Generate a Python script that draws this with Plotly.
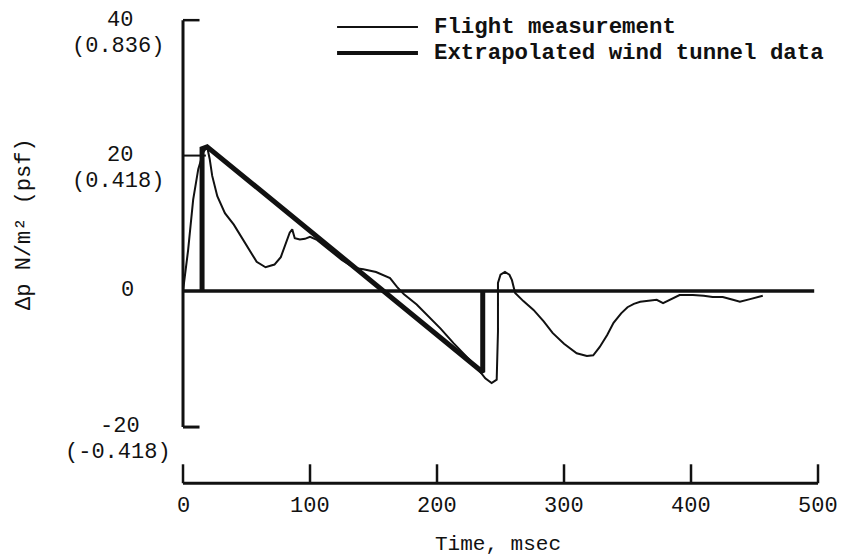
import plotly.graph_objects as go

# ---------------- data ----------------
flight_t = [0, 4, 8, 12, 16, 19, 21, 23, 27, 33, 40, 46, 52, 58, 65, 72, 77, 81, 84, 86,
            88, 92, 96, 100, 105, 115, 125, 135, 142, 152, 163, 168.5, 174, 184, 194, 203,
            213, 222, 231, 238, 243, 247, 248, 248, 250, 253.5, 257, 259, 261.5, 268, 276,
            284, 291, 300, 310, 318, 323, 328, 334, 339, 345, 350, 355, 360, 367, 373, 378,
            383.5, 391, 401.5, 410, 417, 425, 433, 438.5, 446.5, 456.5]
flight_p = [0, 6, 13.5, 18, 20.5, 21.3, 19.5, 17, 14, 11.5, 9.8, 8, 6, 4.3, 3.5, 3.9, 5, 7, 8.6, 9.1,
            7.8, 7.6, 7.7, 8, 7.6, 6.1, 4.6, 3.4, 3.2, 2.8, 1.9, 0.6, -0.5, -2.0, -3.9, -5.6,
            -7.7, -9.4, -11.2, -12.9, -13.6, -13.1, -6, 1.2, 2.4, 2.8, 2.4, 1.6, -0.3, -1.5, -2.8,
            -4.5, -6.2, -7.8, -9.2, -9.6, -9.5, -8.3, -6.5, -4.7, -3.3, -2.4, -1.9, -1.6, -1.4, -1.3, -1.8,
            -1.3, -0.6, -0.6, -0.7, -0.9, -0.9, -1.3, -1.6, -1.2, -0.7]

tunnel_t = [15, 15, 19, 236, 236]
tunnel_p = [0, 21, 21.3, -12.0, 0]

x_tick_vals = [0, 100, 200, 300, 400, 500]
x_tick_text = ["0", "100", "200", "300", "400", "500"]
y_tick_vals = [40, 20, 0, -20]
y_tick_text_si = ["40", "20", "0", "-20"]
y_tick_text_psf = ["(0.836)", "(0.418)", "", "(-0.418)"]

legend_names = ["Flight measurement", "Extrapolated wind tunnel data"]
x_title = "Time, msec"
y_title = "\u0394p N/m\u00b2 (psf)"

# ---------------- layout geometry (data units) ----------------
X_RANGE = [-144.1, 518.1]
Y_RANGE = [-39.59, 42.98]
BOTTOM_AXIS_Y = -28.4
BOTTOM_TICK_TOP = -25.6
Y_AXIS_BOTTOM = -20.1
ZERO_LINE_END = 497
FONT = "Liberation Mono"
INK = "#111111"

fig = go.Figure()

fig.add_trace(go.Scatter(x=flight_t, y=flight_p, mode="lines",
                         line=dict(color=INK, width=2), name=legend_names[0],
                         showlegend=False))
fig.add_trace(go.Scatter(x=tunnel_t, y=tunnel_p, mode="lines",
                         line=dict(color=INK, width=5), name=legend_names[1],
                         showlegend=False))

shapes = []
def seg(x0, y0, x1, y1, w):
    shapes.append(dict(type="line", xref="x", yref="y", x0=x0, y0=y0, x1=x1, y1=y1,
                       line=dict(color=INK, width=w), layer="below"))

# zero line
seg(0, 0, ZERO_LINE_END, 0, 3.5)
# left axis
seg(0, y_tick_vals[0], 0, Y_AXIS_BOTTOM, 3)
seg(0, y_tick_vals[0], 13, y_tick_vals[0], 2.5)
seg(0, y_tick_vals[1], 18, y_tick_vals[1], 2)
seg(0, Y_AXIS_BOTTOM, 13, Y_AXIS_BOTTOM, 3)
# bottom axis
seg(x_tick_vals[0], BOTTOM_AXIS_Y, x_tick_vals[-1], BOTTOM_AXIS_Y, 3)
for xv in x_tick_vals:
    seg(xv, BOTTOM_AXIS_Y, xv, BOTTOM_TICK_TOP, 2.5)

annotations = []
def txt(x, y, s, size=22, bold=False, xanchor="center", yanchor="middle", angle=0, yshift=0):
    annotations.append(dict(x=x, y=y, xref="x", yref="y", text=f"<b>{s}</b>" if bold else s,
                            showarrow=False, xanchor=xanchor, yanchor=yanchor,
                            textangle=angle, yshift=yshift,
                            font=dict(family=FONT, size=size, color=INK)))

for v, t1, t2 in zip(y_tick_vals, y_tick_text_si, y_tick_text_psf):
    xl = -50 if t2 else -44
    txt(xl, v, t1)
    if t2:
        txt(-51, v, t2, yshift=-26)

for v, t in zip(x_tick_vals, x_tick_text):
    txt(v, -31.8, t)

txt(248, -37.5, x_title, size=21)
txt(-124.4, 9.9, y_title, angle=-90)

# legend (samples + text)
leg_y = [(291 - 27) / 6.77, (291 - 53) / 6.77]
shapes.append(dict(type="line", xref="x", yref="y", x0=121.3, x1=185, y0=leg_y[0], y1=leg_y[0],
                   line=dict(color=INK, width=2)))
shapes.append(dict(type="line", xref="x", yref="y", x0=121.3, x1=185, y0=leg_y[1], y1=leg_y[1],
                   line=dict(color=INK, width=4)))
txt(196, leg_y[0], legend_names[0], size=22.4, bold=True, xanchor="left")
txt(196, leg_y[1], legend_names[1], size=22.4, bold=True, xanchor="left")

fig.update_layout(
    width=841, height=559,
    margin=dict(l=0, r=0, t=0, b=0),
    paper_bgcolor="white", plot_bgcolor="white",
    xaxis=dict(range=X_RANGE, visible=False, fixedrange=True),
    yaxis=dict(range=Y_RANGE, visible=False, fixedrange=True),
    shapes=shapes, annotations=annotations, showlegend=False,
)

fig.write_html("out.html", config={"displayModeBar": False},
               post_script="document.body.style.margin='0';document.body.style.overflow='hidden';")
